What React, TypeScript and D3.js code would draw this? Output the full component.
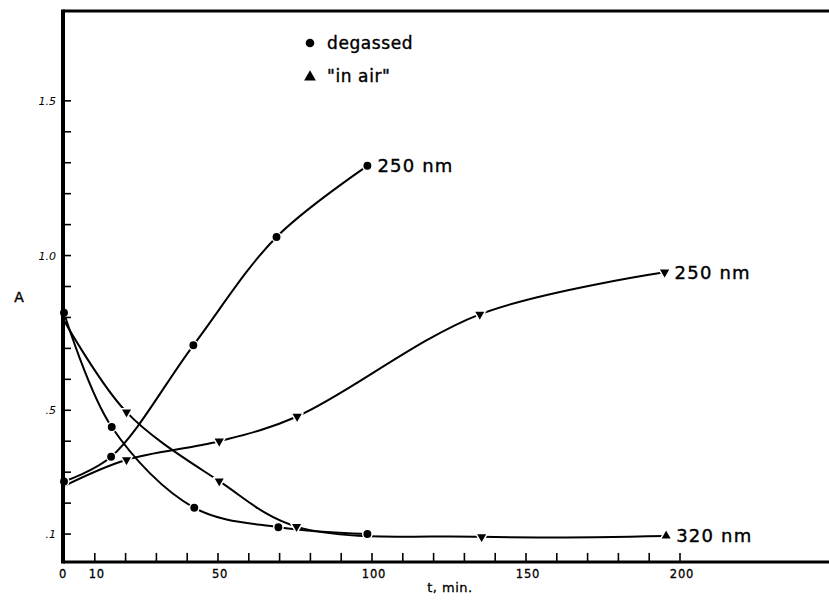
import React from 'react';
import * as d3 from 'd3';

// time (min) and absorbance
const degassed250T = [0, 15.3, 42, 69, 98.5];
const degassed250A = [0.27, 0.35, 0.71, 1.06, 1.29];
const degassed250Marks = ['dot', 'dot', 'dot', 'dot', 'dot'];

const inAir250T = [0, 20.3, 50.4, 75.7, 135, 195];
const inAir250A = [0.255, 0.34, 0.4, 0.48, 0.81, 0.946];
const inAir250Marks = ['none', 'down', 'down', 'down', 'down', 'down'];

const degassed320T = [0, 15.5, 42.3, 69.6, 98.5];
const degassed320A = [0.815, 0.446, 0.185, 0.122, 0.1];
const degassed320Marks = ['dot', 'dot', 'dot', 'dot', 'dot'];

const inAir320T = [0, 20.3, 50.4, 75.5, 135.6, 195.5];
const inAir320A = [0.79, 0.494, 0.271, 0.124, 0.091, 0.094];
const inAir320Marks = ['none', 'down', 'down', 'down', 'down', 'up'];

const xTicks = d3.range(10, 201, 10);
const xTickLabels = [
  { v: 0, text: '0' },
  { v: 10, text: '10' },
  { v: 50, text: '50' },
  { v: 100, text: '100' },
  { v: 150, text: '150' },
  { v: 200, text: '200' },
];
const yTicks = d3.range(1, 16).map((d) => d / 10);
const yTickLabels = [
  { v: 1.5, text: '1.5' },
  { v: 1.0, text: '1.0' },
  { v: 0.5, text: '.5' },
  { v: 0.1, text: '.1' },
];

const curveLabels = [
  { series: 0, text: '250 nm' },
  { series: 1, text: '250 nm' },
  { series: 3, text: '320 nm' },
];

const W = 829;
const H = 604;
const font = '"DejaVu Sans", sans-serif';

const x = d3.scaleLinear().domain([0, 248.7]).range([64, 830]);
const y = d3.scaleLinear().domain([0, 1.8]).range([565, 8]);

const makeSeries = (ts: number[], as: number[], marks: string[]) =>
  ts.map((t, i) => ({ t, a: as[i], m: marks[i] }));

const series = [
  makeSeries(degassed250T, degassed250A, degassed250Marks),
  makeSeries(inAir250T, inAir250A, inAir250Marks),
  makeSeries(degassed320T, degassed320A, degassed320Marks),
  makeSeries(inAir320T, inAir320A, inAir320Marks),
];

const line = d3
  .line<{ t: number; a: number }>()
  .x((d) => x(d.t))
  .y((d) => y(d.a))
  .curve(d3.curveCatmullRom.alpha(0.5));

const tri = d3.symbol().type(d3.symbolTriangle).size(60)();

const Marker = ({ cx, cy, m }: { cx: number; cy: number; m: string }) => {
  if (m === 'none') return null;
  if (m === 'dot') {
    return <circle cx={cx} cy={cy} r={4.7} fill="#000" stroke="#fff" strokeWidth={1.5} />;
  }
  const rot = m === 'down' ? 180 : 0;
  return (
    <path
      d={tri || ''}
      transform={`translate(${cx},${cy}) rotate(${rot})`}
      fill="#000"
      stroke="#fff"
      strokeWidth={1.5}
      strokeLinejoin="round"
    />
  );
};

const App = () => {
  const axisY = y(0.01);
  const axisX = x(0) - 1;
  const topY = y(1.79);
  return (
    <svg
      width={W}
      height={H}
      style={{ position: 'absolute', left: 0, top: 0, background: '#fff' }}
      fontFamily={font}
    >
      {/* curves */}
      {series.map((s, i) => (
        <path key={'c' + i} d={line(s) || ''} fill="none" stroke="#000" strokeWidth={2} />
      ))}
      {series.map((s, i) =>
        s.map((d, j) => <Marker key={`m${i}-${j}`} cx={x(d.t)} cy={y(d.a)} m={d.m} />)
      )}

      {/* frame: left axis, top border, bottom axis */}
      <line x1={axisX} y1={topY - 1.5} x2={axisX} y2={axisY + 1.5} stroke="#000" strokeWidth={4} />
      <line x1={axisX} y1={topY} x2={W} y2={topY} stroke="#000" strokeWidth={3} />
      <line x1={axisX} y1={axisY} x2={W} y2={axisY} stroke="#000" strokeWidth={3} />

      {xTicks.map((t) => (
        <line key={'xt' + t} x1={x(t)} x2={x(t)} y1={axisY} y2={axisY - 9} stroke="#000" strokeWidth={1.6} />
      ))}
      {yTicks.map((v) => (
        <line key={'yt' + v} x1={axisX} x2={axisX + 8} y1={y(v)} y2={y(v)} stroke="#000" strokeWidth={1.6} />
      ))}

      {xTickLabels.map((d) => (
        <text
          key={'xl' + d.v}
          x={x(d.v) + (d.v === 0 ? -1 : 2)}
          y={axisY + 16}
          fontSize={11.5}
          letterSpacing={0.8}
          textAnchor="middle"
          stroke="#000"
          strokeWidth={0.3}
        >
          {d.text}
        </text>
      ))}
      {yTickLabels.map((d) => (
        <text
          key={'yl' + d.v}
          x={axisX - 7}
          y={y(d.v) + 4}
          fontSize={11}
          fontStyle="italic"
          textAnchor="end"
        >
          {d.text}
        </text>
      ))}

      <text x={450} y={592} fontSize={13} textAnchor="middle" letterSpacing={0.5} stroke="#000" strokeWidth={0.3}>
        t, min.
      </text>
      <text x={19} y={302} fontSize={14} textAnchor="middle" stroke="#000" strokeWidth={0.4}>
        A
      </text>

      {/* legend */}
      <circle cx={310} cy={43} r={4.3} fill="#000" />
      <text x={327} y={49} fontSize={17} letterSpacing={0.6} stroke="#000" strokeWidth={0.4}>
        degassed
      </text>
      <path d={tri || ''} transform="translate(310,77)" fill="#000" />
      <text x={327} y={82} fontSize={17} letterSpacing={0.6} stroke="#000" strokeWidth={0.4}>
        "in air"
      </text>

      {curveLabels.map((c) => {
        const last = series[c.series][series[c.series].length - 1];
        return (
          <text
            key={'cl' + c.series}
            x={x(last.t) + 10}
            y={y(last.a) + 6.5}
            fontSize={18}
            letterSpacing={1.2}
            stroke="#000"
            strokeWidth={0.4}
          >
            {c.text}
          </text>
        );
      })}
    </svg>
  );
};

export default App;
